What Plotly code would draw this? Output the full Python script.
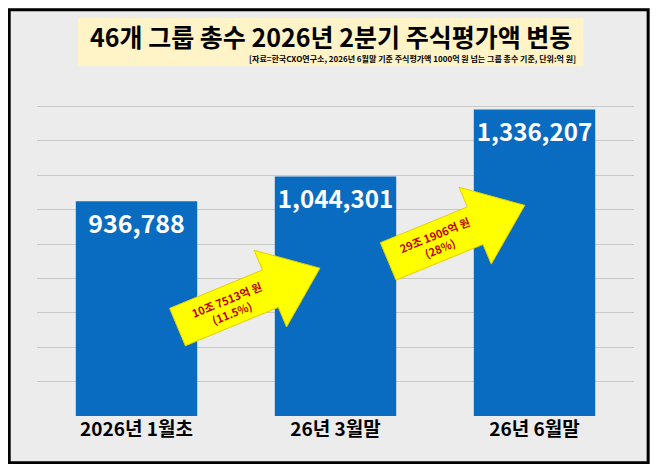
import math
import plotly.graph_objects as go

categories = ["2026년 1월초", "26년 3월말", "26년 6월말"]
values = [936788, 1044301, 1336207]
arrow_texts = ["10조 7513억 원<br>(11.5%)", "29조 1906억 원<br>(28%)"]

# reference pixel frame, figure drawn inside the page's 8px body margin
RW, RH = 658, 472
W, H = 642, 456
SX, SY = W / RW, H / RH
L, R, T, B = 30 * SX, 16 * SX, 66 * SY, 50 * SY
PW, PH = W - L - R, H - T - B


def px(x, y):
    # reference pixel -> paper coords
    return (x * SX - L) / PW, (H - B - y * SY) / PH


def arrow_path(tail, tip, shaft=21, head=43, head_len=55):
    dx, dy = tip[0] - tail[0], tip[1] - tail[1]
    n = math.hypot(dx, dy)
    ux, uy = dx / n, dy / n
    nx, ny = -uy, ux
    bx, by = tip[0] - ux * head_len, tip[1] - uy * head_len
    pts = [
        (tail[0] + nx * shaft, tail[1] + ny * shaft),
        (bx + nx * shaft, by + ny * shaft),
        (bx + nx * head, by + ny * head),
        tip,
        (bx - nx * head, by - ny * head),
        (bx - nx * shaft, by - ny * shaft),
        (tail[0] - nx * shaft, tail[1] - ny * shaft),
    ]
    p = [px(*q) for q in pts]
    return "M " + " L ".join(f"{a:.4f},{b:.4f}" for a, b in p) + " Z"


fig = go.Figure(go.Bar(
    x=categories, y=values, width=0.61,
    marker=dict(color="#0a6cc0", line=dict(width=0)),
    text=[f"{v:,}" for v in values], textposition="inside", textangle=0,
    insidetextanchor="end",
    textfont=dict(family="Noto Sans CJK KR", size=25, color="white", weight="bold"),
))

arrows = [((174, 330), (320, 269)), ((390, 262), (530, 204))]
shapes = []
annotations = []
for (tail, tip), txt in zip(arrows, arrow_texts):
    shapes.append(dict(type="path", xref="paper", yref="paper", path=arrow_path(tail, tip),
                       fillcolor="#ffff00", line=dict(color="#e0d000", width=1)))
    cx, cy = tail[0] + (tip[0] - tail[0]) * 0.36, tail[1] + (tip[1] - tail[1]) * 0.36
    ax_, ay_ = px(cx, cy)
    annotations.append(dict(xref="paper", yref="paper", x=ax_, y=ay_, xanchor="center", yanchor="middle",
                            text=txt, showarrow=False, textangle=-22,
                            font=dict(family="Noto Sans CJK KR", size=11, color="#c00000", weight="bold")))

# title highlight and border
x0, y0 = px(72, 60)
x1, y1 = px(590, 10)
shapes.insert(0, dict(type="rect", xref="paper", yref="paper", x0=x0, y0=y0, x1=x1, y1=y1,
                      fillcolor="#fff3c8", line=dict(width=0), layer="below"))
bx0, by0 = px(1.5, RH - 1.5)
bx1, by1 = px(RW - 1.5, 1.5)
shapes.append(dict(type="rect", xref="paper", yref="paper", x0=bx0, y0=by0, x1=bx1, y1=by1,
                   line=dict(color="black", width=3)))

tx, ty = px(331, 29)
annotations.append(dict(xref="paper", yref="paper", x=tx, y=ty, yanchor="middle",
                        text="46개 그룹 총수 2026년 2분기 주식평가액 변동",
                        showarrow=False, font=dict(family="Noto Sans CJK KR", size=25, color="black", weight="bold")))
sx, sy = px(585, 52)
annotations.append(dict(xref="paper", yref="paper", x=sx, y=sy, xanchor="right", yanchor="middle",
                        text="[자료=한국CXO연구소, 2026년 6월말 기준 주식평가액 1000억 원 넘는 그룹 총수 기준, 단위:억 원]",
                        showarrow=False, font=dict(family="Noto Sans CJK KR", size=8, color="black", weight="bold")))

fig.update_layout(
    width=W, height=H, margin=dict(l=L, r=R, t=T, b=B, autoexpand=False),
    paper_bgcolor="#ececec", plot_bgcolor="#ececec",
    showlegend=False, shapes=shapes, annotations=annotations,
    xaxis=dict(tickfont=dict(family="Noto Sans CJK KR", size=19, color="black", weight="bold"),
               showline=False, ticks="", automargin=False),
    yaxis=dict(range=[0, 1500000], dtick=150000, showticklabels=False,
               gridcolor="#c8c8c8", zeroline=False, automargin=False),
)
fig.write_html("out.html")
